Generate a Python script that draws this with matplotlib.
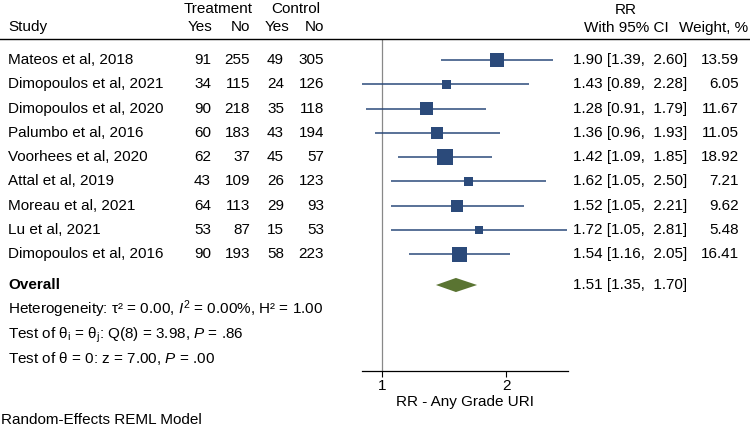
import matplotlib.pyplot as plt
from matplotlib.patches import Polygon
from matplotlib.lines import Line2D
import matplotlib.transforms as mtransforms
import numpy as np

plt.rcParams['font.family'] = ['Liberation Sans', 'DejaVu Sans']
plt.rcParams['mathtext.fontset'] = 'custom'
plt.rcParams['mathtext.rm'] = 'Liberation Sans'
plt.rcParams['mathtext.it'] = 'Liberation Sans:italic'
plt.rcParams['mathtext.bf'] = 'Liberation Sans:bold'

studies = ["Mateos et al, 2018", "Dimopoulos et al, 2021", "Dimopoulos et al, 2020",
           "Palumbo et al, 2016", "Voorhees et al, 2020", "Attal et al, 2019",
           "Moreau et al, 2021", "Lu et al, 2021", "Dimopoulos et al, 2016"]
trt_yes = [91, 34, 90, 60, 62, 43, 64, 53, 90]
trt_no = [255, 115, 218, 183, 37, 109, 113, 87, 193]
ctl_yes = [49, 24, 35, 43, 45, 26, 29, 15, 58]
ctl_no = [305, 126, 118, 194, 57, 123, 93, 53, 223]
rr = [1.90, 1.43, 1.28, 1.36, 1.42, 1.62, 1.52, 1.72, 1.54]
ci_lo = [1.39, 0.89, 0.91, 0.96, 1.09, 1.05, 1.05, 1.05, 1.16]
ci_hi = [2.60, 2.28, 1.79, 1.93, 1.85, 2.50, 2.21, 2.81, 2.05]
weights = [13.59, 6.05, 11.67, 11.05, 18.92, 7.21, 9.62, 5.48, 16.41]
overall = (1.51, 1.35, 1.70)

W, H = 750, 432
navy = '#2b4a7a'
green = '#5a7432'
fs = 11

fig = plt.figure(figsize=(7.5, 4.32), dpi=100)
ax = fig.add_axes([362 / W, 1 - 371 / H, (568 - 362) / W, (371 - 39) / H])
ax.set_xscale('log')
ax.set_xlim(0.892, 2.83)
# row y positions (in row units)
row_px = 24.3
def rowy(px):
    return (px - 60) / row_px
ax.set_ylim(rowy(371), rowy(39))

ys = np.arange(len(studies))
ax.hlines(ys, ci_lo, ci_hi, color=navy, lw=1.1, zorder=2)
side_px = 3.68 * np.sqrt(weights)
ax.scatter(rr, ys, s=(side_px * 0.72) ** 2, marker='s', color=navy, linewidths=0, zorder=3)

y_over = rowy(285)
dh = 0.29
ax.add_patch(Polygon([(overall[1], y_over), (overall[0], y_over - dh), (overall[2], y_over),
                      (overall[0], y_over + dh)], closed=True, color=green, lw=0, zorder=3))

ax.axvline(1, color='#888888', lw=0.9, zorder=1)
for s in ['top', 'left', 'right']:
    ax.spines[s].set_visible(False)
ax.spines['bottom'].set_linewidth(0.9)
ax.set_yticks([])
ax.set_xticks([1, 2])
ax.set_xticklabels(['1', '2'])
ax.xaxis.set_minor_locator(plt.NullLocator())
ax.tick_params(axis='x', labelsize=fs, length=4, width=0.8, pad=2)
ax.set_xlabel('RR - Any Grade URI', fontsize=fs, labelpad=1)

tr = mtransforms.blended_transform_factory(fig.transFigure, ax.transData)
def fx(px):
    return px / W

for i, name in enumerate(studies):
    ax.text(fx(8), i, name, transform=tr, fontsize=fs, va='center', ha='left')
    ax.text(fx(211), i, str(trt_yes[i]), transform=tr, fontsize=fs, va='center', ha='right')
    ax.text(fx(250), i, str(trt_no[i]), transform=tr, fontsize=fs, va='center', ha='right')
    ax.text(fx(284), i, str(ctl_yes[i]), transform=tr, fontsize=fs, va='center', ha='right')
    ax.text(fx(324), i, str(ctl_no[i]), transform=tr, fontsize=fs, va='center', ha='right')
    ax.text(fx(573), i, f"{rr[i]:.2f} [{ci_lo[i]:.2f},  {ci_hi[i]:.2f}]", transform=tr,
            fontsize=fs, va='center', ha='left')
    ax.text(fx(739), i, f"{weights[i]:.2f}", transform=tr, fontsize=fs, va='center', ha='right')

ax.text(fx(8), y_over, 'Overall', transform=tr, fontsize=fs, va='center', ha='left', fontweight='bold')
ax.text(fx(573), y_over, f"{overall[0]:.2f} [{overall[1]:.2f},  {overall[2]:.2f}]", transform=tr,
        fontsize=fs, va='center', ha='left')

stats = ["Heterogeneity: τ² = 0.00, $\\mathit{I}^{2}$ = 0.00%, H² = 1.00",
         "Test of θ$_\\mathrm{i}$ = θ$_\\mathrm{j}$: Q(8) = 3.98, $\\mathit{P}$ = .86",
         "Test of θ = 0: z = 7.00, $\\mathit{P}$ = .00"]
for k, txt in enumerate(stats):
    ax.text(fx(8), rowy(314 + 24.3 * k), txt, transform=tr, fontsize=fs, va='baseline', ha='left')

# header
def ftext(px, py, s, **kw):
    fig.text(px / W, 1 - py / H, s, fontsize=fs, va='center', **kw)

ftext(218, 9, 'Treatment', ha='center')
ftext(296, 9, 'Control', ha='center')
ftext(8, 27, 'Study', ha='left')
ftext(212, 27, 'Yes', ha='right')
ftext(250, 27, 'No', ha='right')
ftext(289, 27, 'Yes', ha='right')
ftext(324, 27, 'No', ha='right')
ftext(626, 10, 'RR', ha='center')
ftext(626, 28, 'With 95% CI', ha='center')
ftext(748, 28, 'Weight, %', ha='right')

fig.add_artist(Line2D([0, 1], [1 - 39 / H, 1 - 39 / H], transform=fig.transFigure,
                      color='black', lw=1.0))

ftext(1, 420, 'Random-Effects REML Model', ha='left')

fig.savefig('out.png', dpi=100, facecolor='white')
